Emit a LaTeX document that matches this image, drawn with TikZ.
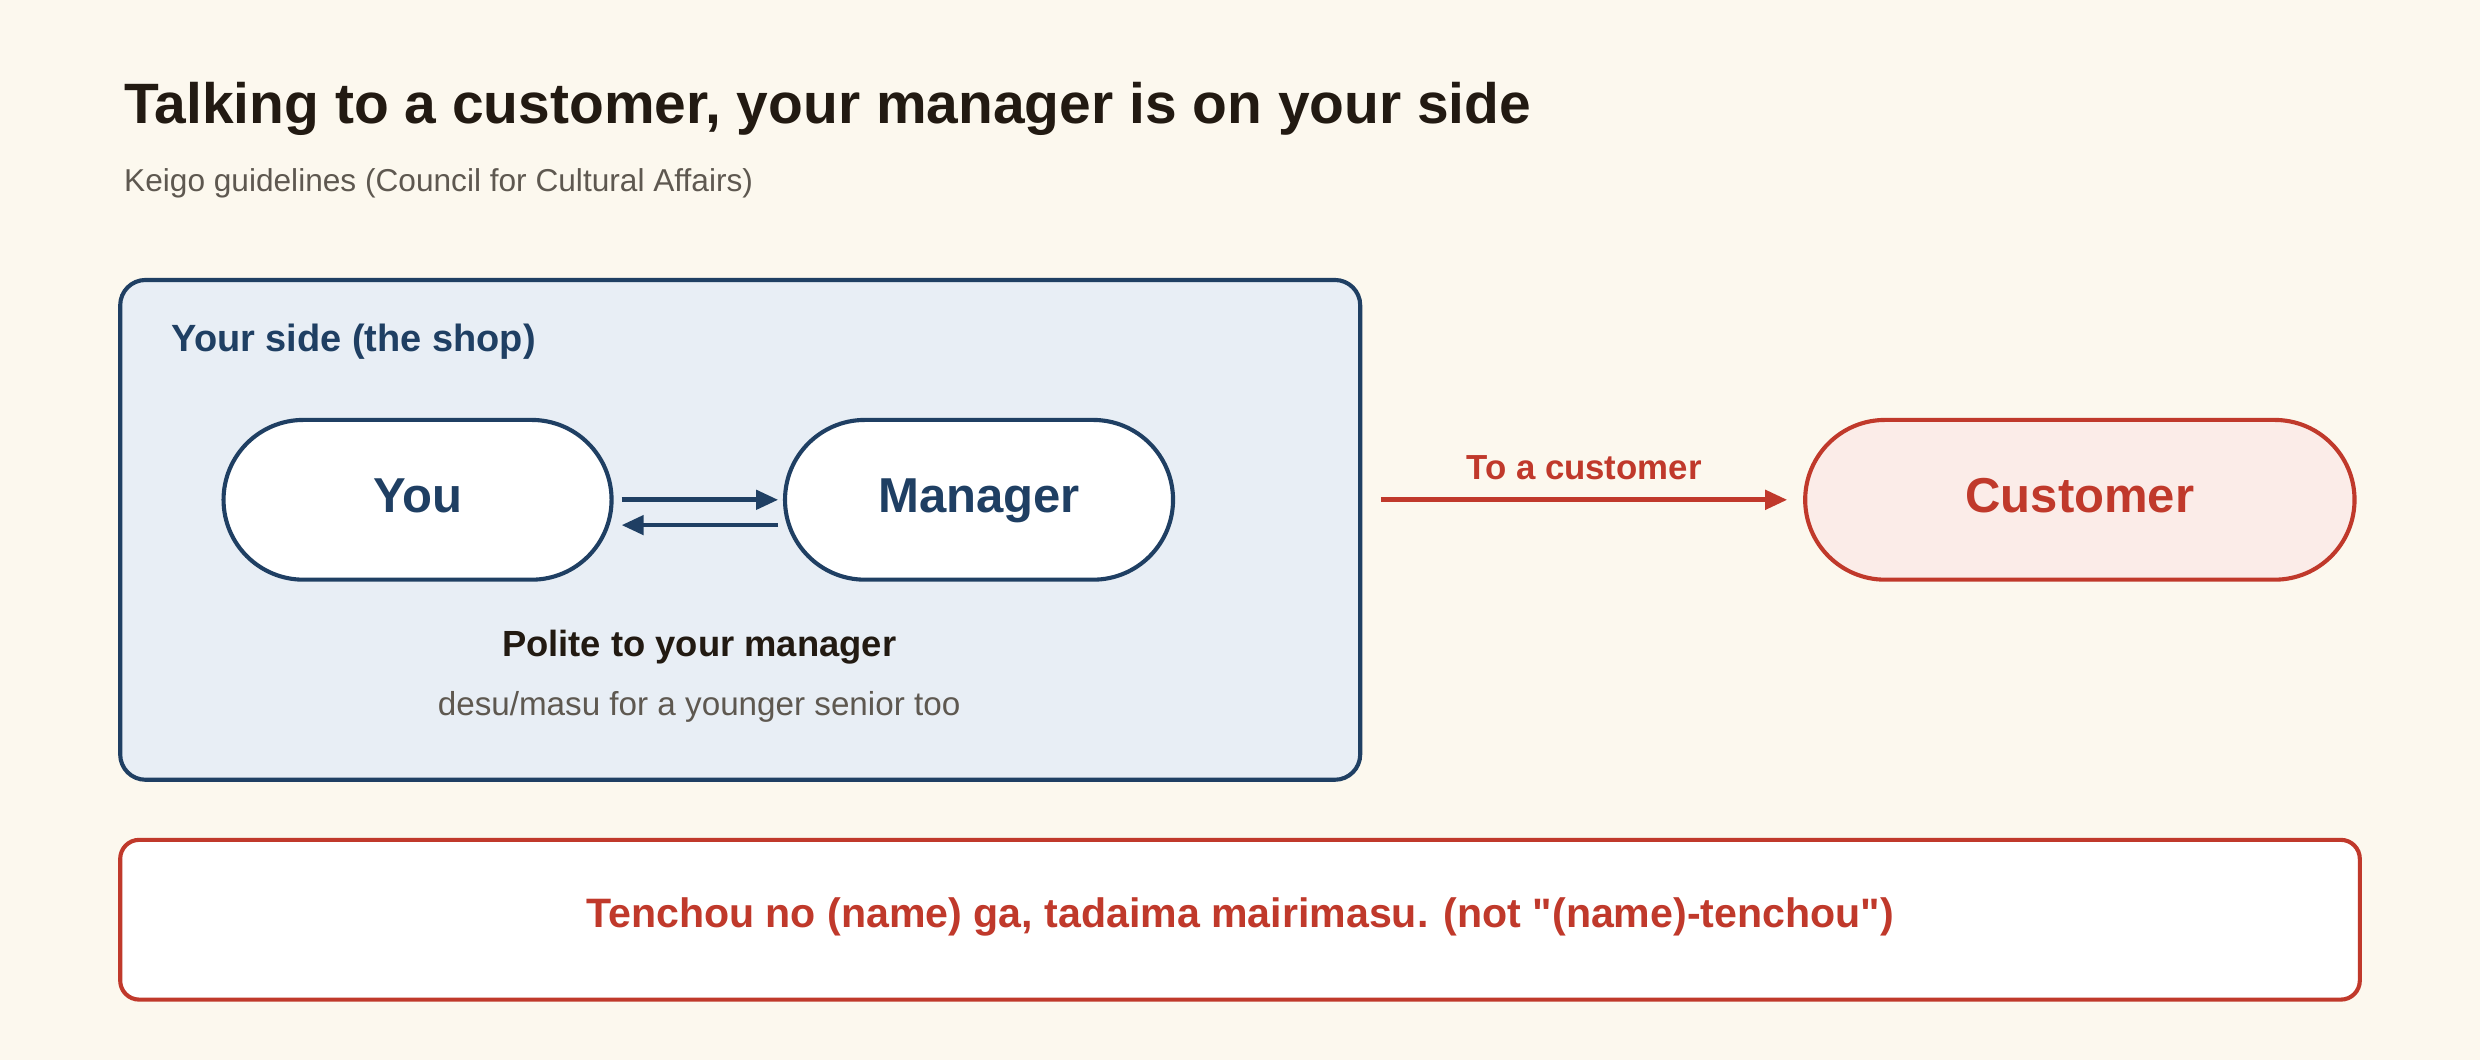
\documentclass[tikz,border=0pt]{standalone}
\usepackage{fontspec}
\setmainfont{Liberation Sans}
\usetikzlibrary{arrows.meta,shapes.misc}
\definecolor{bg}{HTML}{FCF8EE}
\definecolor{navy}{HTML}{1F3F63}
\definecolor{lblue}{HTML}{E8EEF5}
\definecolor{rd}{HTML}{C0392B}
\definecolor{pink}{HTML}{FBECE8}
\definecolor{ink}{HTML}{221A12}
\definecolor{gr}{HTML}{5E5850}
\newcommand{\fs}[1]{\fontsize{#1}{#1}\selectfont}
\tikzset{
  pill/.style={rounded rectangle, draw=navy, line width=2.6pt, fill=white, minimum width=252pt, minimum height=101pt, font=\fs{31}\bfseries, text=navy, text height=22pt, text depth=6pt},
  arr/.style={line width=3pt, -{Triangle[length=14pt,width=12pt]}},
}
\begin{document}
\begin{tikzpicture}[x=1pt,y=-1pt]
\useasboundingbox[fill=bg] (0,0) rectangle (1568,670);
\node[anchor=base west, font=\fs{36}\bfseries, text=ink] (title) at (75,78) {Talking to a customer, your manager is on your side};
\node[anchor=base west, font=\fs{20}, text=gr] (sub) at (75,121) {Keigo guidelines (Council for Cultural Affairs)};
\draw[navy, line width=2.6pt, fill=lblue, rounded corners=16pt] (76,177) rectangle (860,493);
\node[anchor=base west, font=\fs{24}\bfseries, text=navy] (side) at (105,222) {Your side (the shop)};
\node[pill] (you) at (264,316) {You};
\node[pill] (mgr) at (619,316) {Manager};
\draw[arr, navy] ([xshift=5pt]you.east) -- ([xshift=-3pt]mgr.west);
\draw[arr, navy] ([yshift=-16pt,xshift=-3pt]mgr.west) -- ([yshift=-16pt,xshift=5pt]you.east);
\node[font=\fs{23}\bfseries, text=ink] (pol) at (442,409) {Polite to your manager};
\node[font=\fs{21}, text=gr] (desu) at (442,447) {desu/masu for a younger senior too};
\node[pill, draw=rd, fill=pink, text=rd, minimum width=354pt] (cust) at (1315,316) {Customer};
\coordinate (s) at (873,316);
\draw[arr, rd] (s) -- ([xshift=-10pt]cust.west) node[midway, above=8pt, font=\fs{22}\bfseries, text=rd] {To a customer};
\draw[rd, line width=2.6pt, fill=white, rounded corners=12pt] (76,531) rectangle (1492,632);
\node[font=\fs{26}\bfseries, text=rd] (ex) at (784,580) {Tenchou no (name) ga, tadaima mairimasu. (not \textquotedbl(name)-tenchou\textquotedbl)};
\end{tikzpicture}
\end{document}
